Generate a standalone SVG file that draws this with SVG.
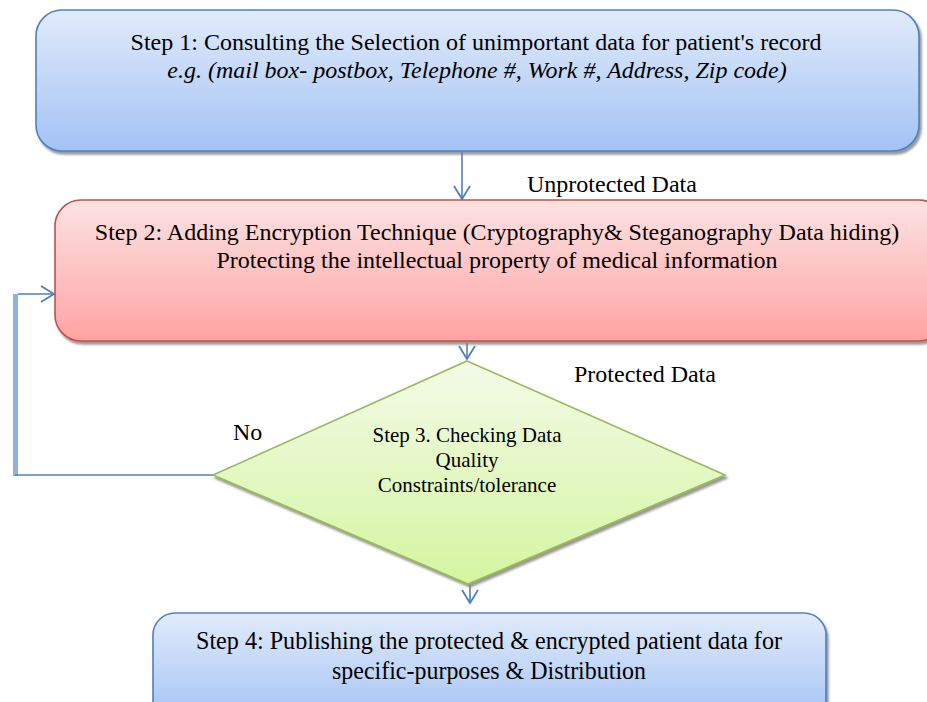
<svg xmlns="http://www.w3.org/2000/svg" width="927" height="702" viewBox="0 0 927 702">
<defs>
<linearGradient id="gBlue" x1="0" y1="0" x2="0" y2="1">
<stop offset="0" stop-color="#e1ebfb"/><stop offset="1" stop-color="#a3c2f5"/>
</linearGradient>
<linearGradient id="gRed" x1="0" y1="0" x2="0" y2="1">
<stop offset="0" stop-color="#fde3e3"/><stop offset="1" stop-color="#ffa3a3"/>
</linearGradient>
<linearGradient id="gGreen" x1="0" y1="0" x2="0" y2="1">
<stop offset="0" stop-color="#f3fbe8"/><stop offset="1" stop-color="#d5f5a0"/>
</linearGradient>
<filter id="sh" x="-5%" y="-5%" width="110%" height="115%">
<feGaussianBlur in="SourceAlpha" stdDeviation="1"/>
<feOffset dx="2" dy="3" result="o"/>
<feFlood flood-color="#808080" flood-opacity="0.8"/>
<feComposite in2="o" operator="in"/>
<feMerge><feMergeNode/><feMergeNode in="SourceGraphic"/></feMerge>
</filter>
<marker id="arr" viewBox="0 0 16 18" refX="14" refY="9" markerWidth="16" markerHeight="18" markerUnits="userSpaceOnUse" orient="auto">
<path d="M1,1 L14,9 L1,17" fill="none" stroke="#4f81bd" stroke-width="1.8"/>
</marker>
</defs>
<style>
text{font-family:"Liberation Serif","Times New Roman",serif;font-size:24px;fill:#000}
.c{text-anchor:middle}
.i{font-style:italic}
.s{font-size:21px}
.t{font-size:26px}
.ln{fill:none;stroke:#4f81bd;stroke-width:1.6}
</style>
<g id="connectors">
<line class="ln" x1="462" y1="152" x2="462" y2="199" marker-end="url(#arr)"/>
<line class="ln" x1="467" y1="343" x2="467" y2="359" marker-end="url(#arr)"/>
<line class="ln" x1="470" y1="585" x2="470" y2="603" marker-end="url(#arr)"/>
<line x1="15.5" y1="294" x2="15.5" y2="476" stroke="#8db3e2" stroke-width="5"/>
<polyline class="ln" points="213,475 15,475"/>
<line class="ln" x1="18" y1="294" x2="54" y2="294" marker-end="url(#arr)"/>
<text x="527" y="192">Unprotected Data</text>
<text x="574" y="382">Protected Data</text>
<text x="233" y="440">No</text>
</g>
<g id="step1">
<rect x="36" y="10" width="883" height="141" rx="26" fill="url(#gBlue)" stroke="#4f81bd" stroke-width="1.6" filter="url(#sh)"/>
<text class="c" x="476" y="50">Step 1: Consulting the Selection of unimportant data for patient's record</text>
<text class="c i" x="477" y="78">e.g. (mail box- postbox, Telephone #, Work #, Address, Zip code)</text>
</g>
<g id="step2">
<rect x="55" y="200" width="890" height="141" rx="26" fill="url(#gRed)" stroke="#c0504d" stroke-width="1.6" filter="url(#sh)"/>
<text class="c" x="497" y="240">Step 2: Adding Encryption Technique (Cryptography&amp; Steganography Data hiding)</text>
<text class="c" x="497" y="268">Protecting the intellectual property of medical information</text>
</g>
<g id="step3">
<polygon points="467,361 725,475 468,584 213,475" fill="url(#gGreen)" stroke="#9bbb59" stroke-width="1.6" filter="url(#sh)"/>
<text class="c s" x="467" y="442">Step 3. Checking Data</text>
<text class="c s" x="467" y="467">Quality</text>
<text class="c s" x="467" y="492">Constraints/tolerance</text>
</g>
<g id="step4">
<rect x="153" y="613" width="673" height="110" rx="22" fill="url(#gBlue)" stroke="#4f81bd" stroke-width="1.6" filter="url(#sh)"/>
<text class="c t" x="489" y="649" textLength="586" lengthAdjust="spacingAndGlyphs">Step 4: Publishing the protected &amp; encrypted patient data for</text>
<text class="c t" x="489" y="679" textLength="314" lengthAdjust="spacingAndGlyphs">specific-purposes &amp; Distribution</text>
</g>
</svg>
